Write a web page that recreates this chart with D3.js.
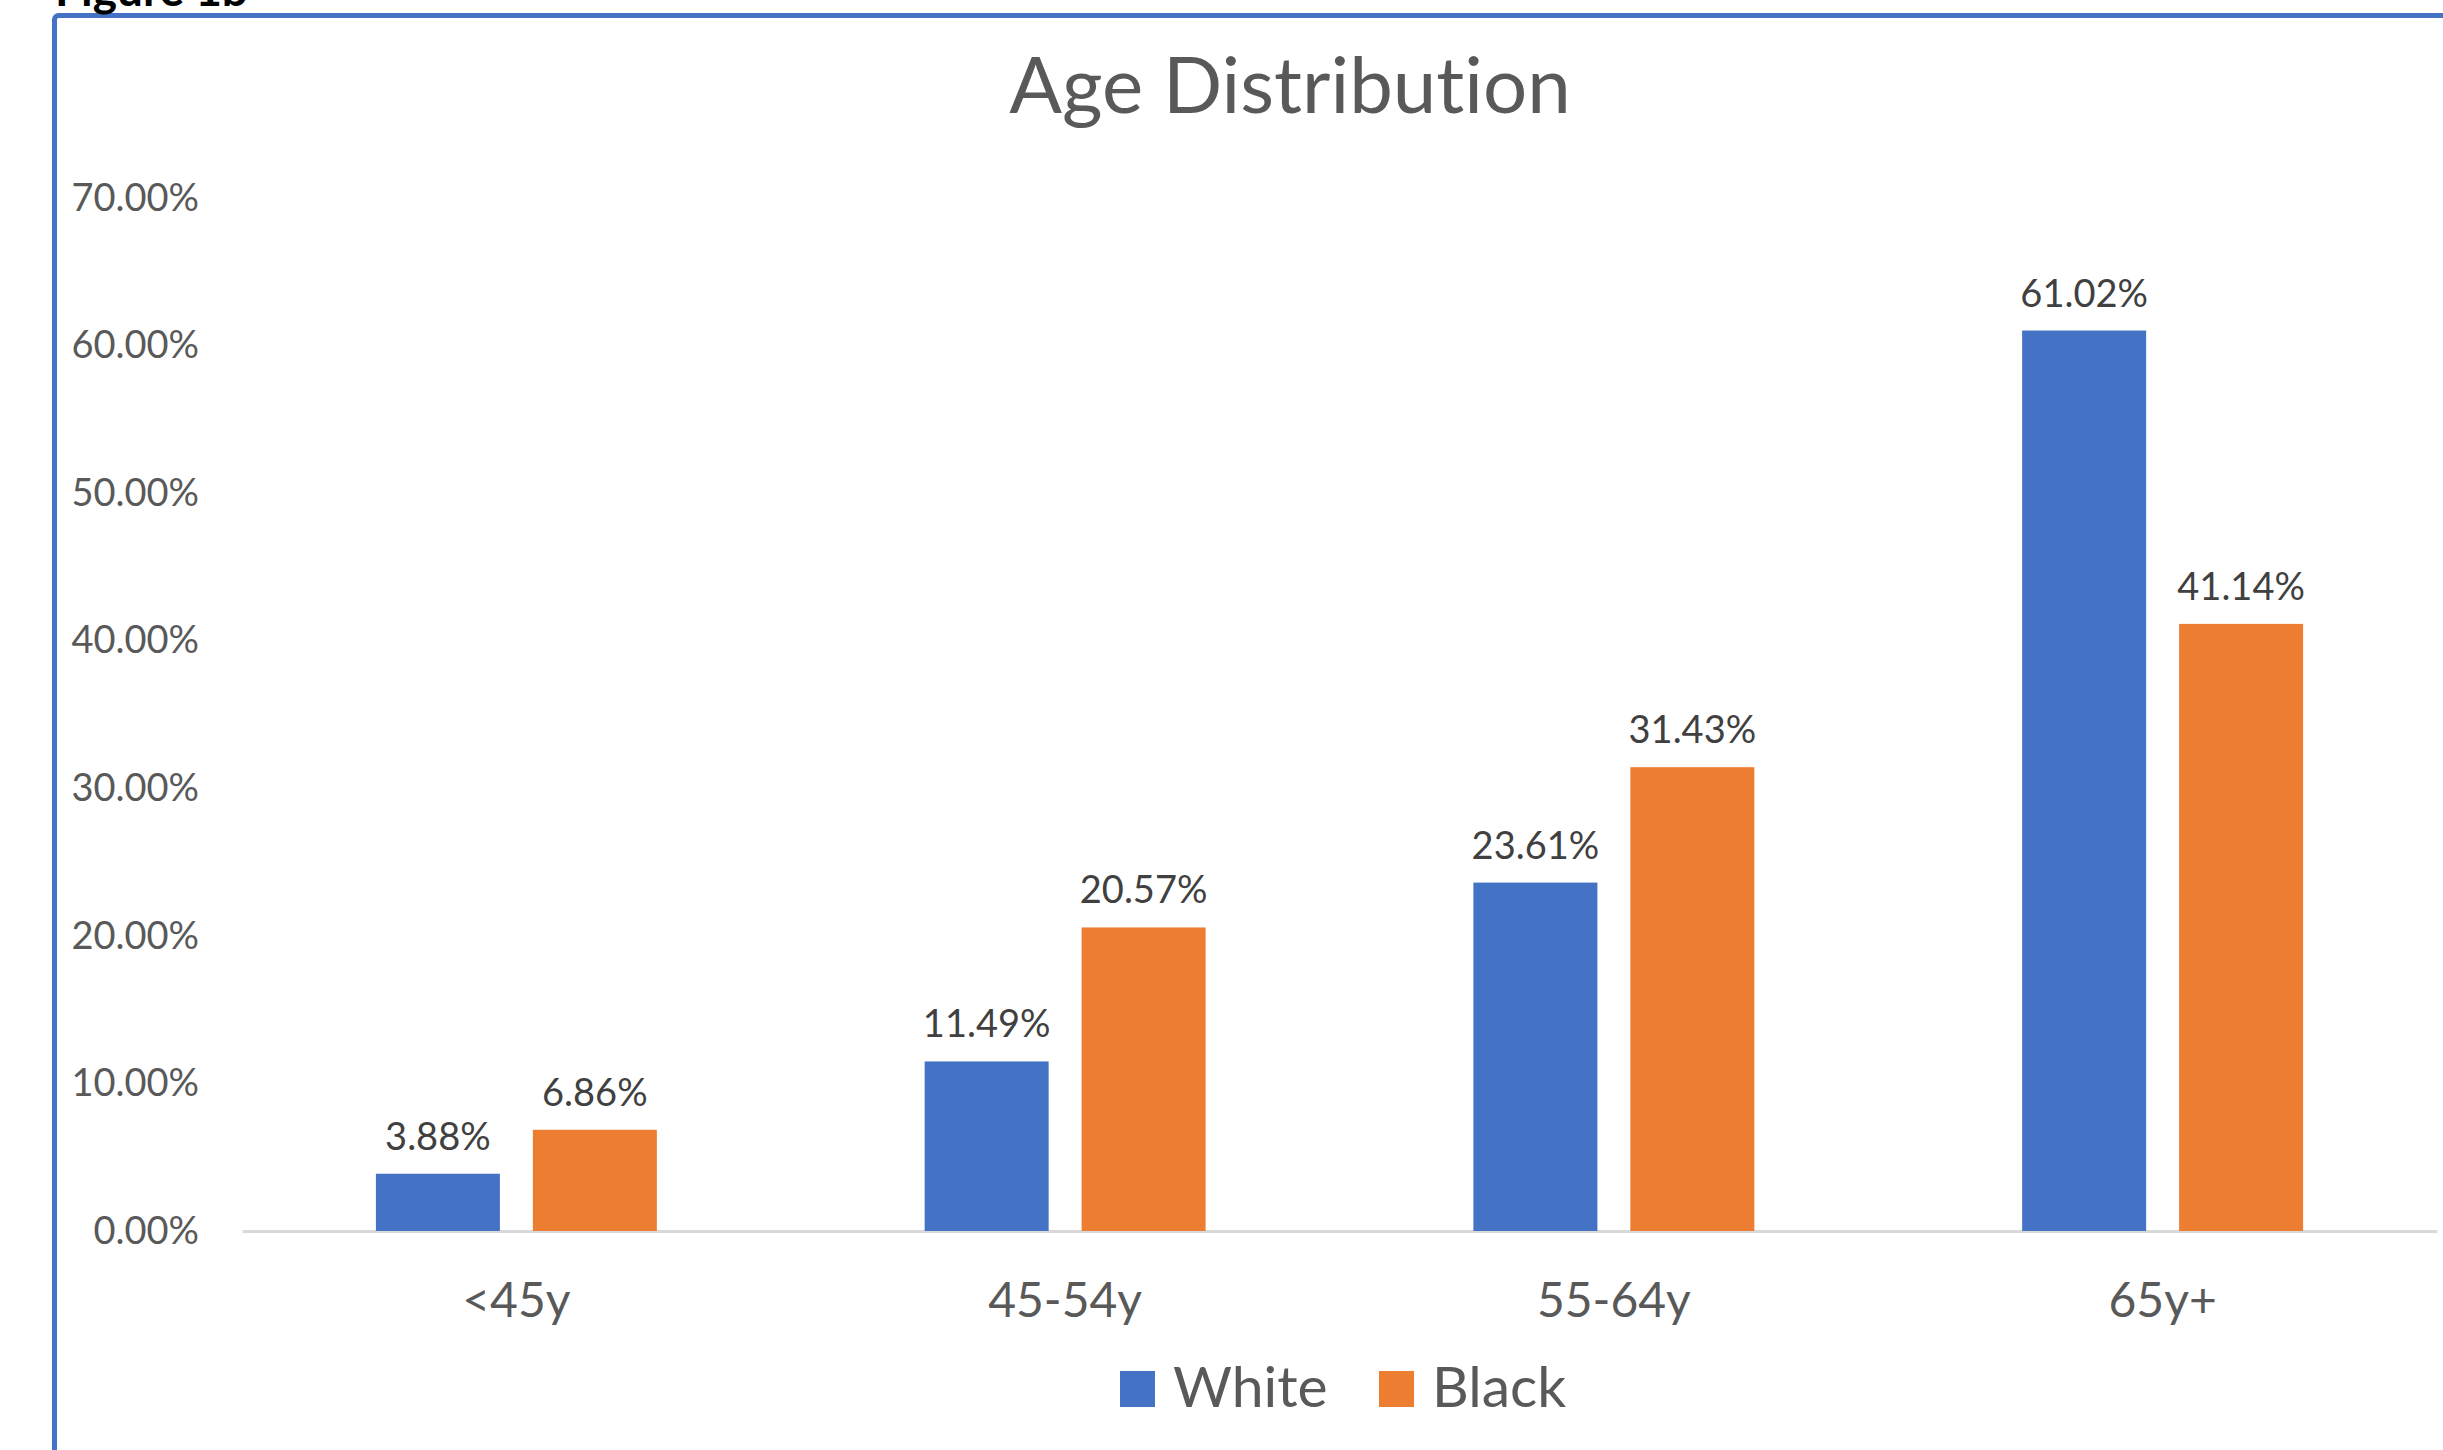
<!DOCTYPE html>
<html>
<head>
<meta charset="utf-8">
<script src="https://cdn.jsdelivr.net/npm/d3@7"></script>
<style>
  html, body { margin: 0; padding: 0; background: #fff; }
  svg { display: block; font-family: Lato, "Open Sans", sans-serif; }
  svg text { font-variant-ligatures: none; font-feature-settings: "liga" 0; }
</style>
</head>
<body>
<svg id="chart" width="2443" height="1450"></svg>
<script>
// ── Data ──────────────────────────────────────────────────────────────────
const categories = ['<45y', '45-54y', '55-64y', '65y+'];
const seriesNames = ['White', 'Black'];
const whiteValues = [0.0388, 0.1149, 0.2361, 0.6102];
const blackValues = [0.0686, 0.2057, 0.3143, 0.4114];
const yTicks = [0, 0.1, 0.2, 0.3, 0.4, 0.5, 0.6, 0.7];

const colors = { White: '#4472C4', Black: '#ED7D31' };

// ── Layout ────────────────────────────────────────────────────────────────
const W = 2443, H = 1450;
const plot = { left: 242, right: 2437, top: 198, bottom: 1231 };

const svg = d3.select('#chart');

// outer frame (only top/left visible in the crop)
svg.append('rect')
  .attr('x', 54.5).attr('y', 15.5)
  .attr('width', W).attr('height', H)
  .attr('rx', 4)
  .attr('fill', 'none')
  .attr('stroke', '#4472C4')
  .attr('stroke-width', 5);

// caption above the frame, cut off by the page top
svg.append('text')
  .attr('x', 55).attr('y', 6)
  .attr('font-size', 46).attr('font-weight', 'bold')
  .attr('fill', '#000')
  .text('Figure 1b');

// ── Scales ────────────────────────────────────────────────────────────────
const x0 = d3.scaleBand()
  .domain(categories)
  .range([plot.left, plot.right])
  .paddingInner(0.488)
  .paddingOuter(0.244);

const x1 = d3.scaleBand()
  .domain(seriesNames)
  .range([0, x0.bandwidth()])
  .paddingInner(0.21);

const y = d3.scaleLinear().domain([0, 0.7]).range([plot.bottom, plot.top]);

const rows = categories.map((c, i) => ({
  cat: c,
  vals: [
    { name: 'White', v: whiteValues[i] },
    { name: 'Black', v: blackValues[i] }
  ]
}));

// ── Title ─────────────────────────────────────────────────────────────────
svg.append('text')
  .attr('x', 1290).attr('y', 113)
  .attr('text-anchor', 'middle')
  .attr('font-size', 78)
  .attr('fill', '#595959')
  .text('Age Distribution');

// ── Axes ──────────────────────────────────────────────────────────────────
const yAxis = svg.append('g')
  .attr('transform', `translate(${plot.left},0)`)
  .call(d3.axisLeft(y).tickValues(yTicks).tickFormat(d3.format('.2%')).tickSize(0).tickPadding(43));
yAxis.select('.domain').remove();
yAxis.selectAll('text')
  .attr('font-size', 38)
  .attr('font-family', 'Lato, sans-serif')
  .attr('fill', '#595959');

const xAxis = svg.append('g')
  .attr('transform', `translate(0,${plot.bottom})`)
  .call(d3.axisBottom(x0).tickSize(0).tickPadding(52));
xAxis.select('.domain')
  .attr('stroke', '#D9D9D9')
  .attr('stroke-width', 3);
xAxis.selectAll('text')
  .attr('font-size', 48)
  .attr('font-family', 'Lato, sans-serif')
  .attr('fill', '#595959');

// ── Bars ──────────────────────────────────────────────────────────────────
const groups = svg.append('g').selectAll('g')
  .data(rows)
  .join('g')
  .attr('transform', d => `translate(${x0(d.cat)},0)`);

groups.selectAll('rect')
  .data(d => d.vals)
  .join('rect')
  .attr('x', d => x1(d.name))
  .attr('y', d => y(d.v))
  .attr('width', x1.bandwidth())
  .attr('height', d => y(0) - y(d.v))
  .attr('fill', d => colors[d.name]);

// data labels
groups.selectAll('text.lbl')
  .data(d => d.vals)
  .join('text')
  .attr('class', 'lbl')
  .attr('x', d => x1(d.name) + x1.bandwidth() / 2)
  .attr('y', d => y(d.v) - 24)
  .attr('text-anchor', 'middle')
  .attr('font-size', 38)
  .attr('fill', '#404040')
  .text(d => d3.format('.2%')(d.v));

// ── Legend ────────────────────────────────────────────────────────────────
const legendX = [1120, 1379];
const legend = svg.append('g').selectAll('g')
  .data(seriesNames)
  .join('g')
  .attr('transform', (d, i) => `translate(${legendX[i]},1371)`);

legend.append('rect')
  .attr('width', 35).attr('height', 36)
  .attr('fill', d => colors[d]);

legend.append('text')
  .attr('x', 53).attr('y', 36)
  .attr('font-size', 57)
  .attr('fill', '#595959')
  .text(d => d);
</script>
</body>
</html>
